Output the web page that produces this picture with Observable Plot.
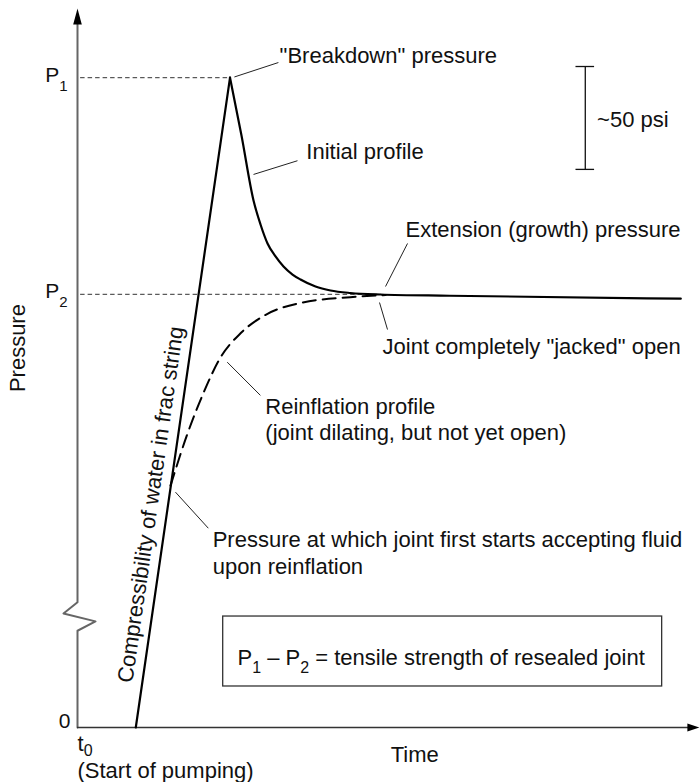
<!DOCTYPE html>
<html><head><meta charset="utf-8">
<script src="https://cdn.jsdelivr.net/npm/d3@7"></script>
<script src="https://cdn.jsdelivr.net/npm/@observablehq/plot@0.6"></script>
<style>html,body{margin:0;padding:0;background:#fff}svg{display:block}</style>
</head><body><div id="chart"></div>
<script>
// ---- values (arbitrary schematic units) ----
const P1 = 90, P2 = 60;
const riseTime = [9.4, 24.6];
const risePressure = [0, 90];
const initialTime = [24.6, 26.45, 28.39, 29.52, 30.65, 31.94, 33.23, 34.68, 35.97, 38.39, 40.81, 44.03, 48.87, 60, 97.3];
const initialPressure = [90, 82.0, 73.0, 69.67, 67.04, 65.24, 63.85, 62.74, 62.05, 61.08, 60.53, 60.18, 59.97, 59.8, 59.4];
const reinflTime = [15.0, 17.74, 20.3, 23.06, 26.3, 30.65, 35.97, 44.0, 49.7];
const reinflPressure = [33.5, 40.7, 46.3, 51.25, 54.6, 57.3, 58.8, 59.6, 59.9];

const tickValues = [P2, P1];
const tickLabels = ["P_2", "P_1"];

const annoText = ['"Breakdown" pressure', "Initial profile", "~50 psi",
  "Extension (growth) pressure", 'Joint completely "jacked" open',
  "Reinflation profile\n(joint dilating, but not yet open)",
  "Pressure at which joint first starts accepting fluid\nupon reinflation"];
const annoX = [32.6, 36.9, 83.8, 52.9, 49.2, 30.3, 21.8];
const annoY = [92.1, 78.8, 83.2, 67.9, 51.7, 39.8, 21.3];

const leaderX1 = [25.3, 28.39, 49.68, 48.71, 24.15, 15.8];
const leaderY1 = [90.1, 76.6, 61.08, 58.86, 50.6, 32.6];
const leaderX2 = [32.4, 35.48, 53.23, 50.0, 29.5, 21.1];
const leaderY2 = [92.1, 78.5, 67.04, 55.12, 46.0, 27.6];

const scaleX = 81.9, scaleTop = 91.55, scaleBottom = 77.3, scaleCap = 1.5;
const boxX = [23.5, 94.3], boxY = [5.68, 15.37];
const boxText = "P_1 – P_2 = tensile strength of resealed joint";
const axisYTime = [0, 0, 2.9, -2.26, 0, 0];
const axisYPressure = [0, 13.4, 14.7, 15.8, 17.35, 98];

// ---- tables ----
const rise = riseTime.map((t, i) => ({t, p: risePressure[i]}));
const initial = initialTime.map((t, i) => ({t, p: initialPressure[i]}));
const reinfl = reinflTime.map((t, i) => ({t, p: reinflPressure[i]}));
const ticks = tickValues.map((v, i) => ({v, label: tickLabels[i]}));
const annos = annoText.map((s, i) => ({s, x: annoX[i], y: annoY[i]}));
const leaders = leaderX1.map((x1, i) => ({x1, y1: leaderY1[i], x2: leaderX2[i], y2: leaderY2[i]}));
const axisY = axisYTime.map((t, i) => ({t, p: axisYPressure[i]}));

const arrowUp = {draw(c) { c.moveTo(0, 0); c.lineTo(4.3, 16); c.lineTo(-4.3, 16); c.closePath(); }};
const arrowRight = {draw(c) { c.moveTo(0, 0); c.lineTo(-12, -4); c.lineTo(-12, 4); c.closePath(); }};

const FONT = "Liberation Sans, Arial, Helvetica, sans-serif";

const chart = Plot.plot({
  width: 700, height: 782,
  marginLeft: 77, marginRight: 3, marginTop: 5, marginBottom: 55,
  x: {domain: [0, 100], axis: null},
  y: {domain: [0, 100], axis: null},
  style: {fontFamily: FONT, fontSize: "22px", color: "#111", background: "white", overflow: "visible"},
  marks: [
    Plot.ruleY([P1], {x1: 0.5, x2: riseTime[1], stroke: "#333", strokeWidth: 1, strokeDasharray: "4.5,3"}),
    Plot.ruleY([P2], {x1: 0.5, x2: 49, stroke: "#333", strokeWidth: 1, strokeDasharray: "4.5,3"}),
    Plot.line(axisY, {x: "t", y: "p", stroke: "#666", strokeWidth: 2}),
    Plot.ruleY([0], {x1: 0, x2: 99, stroke: "#333", strokeWidth: 1.5}),
    Plot.dot([{t: 0, p: 99.6}], {x: "t", y: "p", symbol: arrowUp, r: 5, fill: "black", stroke: "none"}),
    Plot.dot([{t: 100.3, p: 0}], {x: "t", y: "p", symbol: arrowRight, r: 5, fill: "black", stroke: "none"}),
    Plot.line(reinfl, {x: "t", y: "p", curve: "monotone-x", stroke: "black", strokeWidth: 2, strokeDasharray: "13,7"}),
    Plot.line(rise, {x: "t", y: "p", stroke: "black", strokeWidth: 2.2}),
    Plot.line(initial, {x: "t", y: "p", curve: "monotone-x", stroke: "black", strokeWidth: 2.2}),
    Plot.link(leaders, {x1: "x1", y1: "y1", x2: "x2", y2: "y2", stroke: "#222", strokeWidth: 1}),
    Plot.ruleX([scaleX], {y1: scaleBottom, y2: scaleTop, stroke: "#111", strokeWidth: 1.3}),
    Plot.ruleY([scaleTop, scaleBottom], {x1: scaleX - scaleCap, x2: scaleX + scaleCap, stroke: "#111", strokeWidth: 1.3}),
    Plot.rect([{}], {x1: boxX[0], x2: boxX[1], y1: boxY[0], y2: boxY[1], fill: "white", stroke: "#333", strokeWidth: 1.3}),
    Plot.text([boxText], {x: 25.8, y: 8.7, text: d => d, textAnchor: "start", lineAnchor: "bottom", fontSize: 22}),
    Plot.text(annos, {x: "x", y: "y", text: "s", textAnchor: "start", lineAnchor: "bottom", fontSize: 22, lineHeight: 1.21}),
    Plot.text(["Compressibility of water in frac string"], {x: 8.82, y: 6.1, text: d => d, rotate: -81.8, textAnchor: "start", lineAnchor: "bottom", fontSize: 22}),
    Plot.text(ticks, {x: 0, y: "v", text: "label", textAnchor: "end", lineAnchor: "bottom", dx: -10, dy: 4, fontSize: 21}),
    Plot.text(["0"], {x: 0, y: 0, text: d => d, textAnchor: "end", lineAnchor: "bottom", dx: -7, fontSize: 21}),
    Plot.text(["Pressure"], {x: -8.4, y: 52.55, text: d => d, rotate: -90, textAnchor: "middle", lineAnchor: "bottom", fontSize: 22}),
    Plot.text(["Time"], {x: 54.4, y: -4.8, text: d => d, textAnchor: "middle", lineAnchor: "bottom", fontSize: 22}),
    Plot.text(["t_0"], {x: 0, y: -3.3, text: d => d, textAnchor: "start", lineAnchor: "bottom", fontSize: 22}),
    Plot.text(["(Start of pumping)"], {x: 0, y: -6.97, text: d => d, textAnchor: "start", lineAnchor: "bottom", fontSize: 22})
  ]
});

// subscripts: "_x" -> lowered, smaller tspan
function subConf(s) {
  if (s.startsWith("t_")) return [16, 5];
  if (s.length > 4) return [16, 8];
  return [15, 9];
}
chart.querySelectorAll("text").forEach(el => {
  const s = el.textContent;
  if (!s.includes("_") || el.children.length) return;
  const [size, shift] = subConf(s);
  const parts = s.split(/(_.)/).filter(p => p.length);
  el.textContent = "";
  let down = false;
  for (const p of parts) {
    const ts = document.createElementNS("http://www.w3.org/2000/svg", "tspan");
    if (p.startsWith("_")) {
      ts.textContent = p.slice(1);
      ts.setAttribute("font-size", size);
      ts.setAttribute("dy", shift);
      down = true;
    } else {
      ts.textContent = p;
      if (down) { ts.setAttribute("dy", -shift); down = false; }
    }
    el.appendChild(ts);
  }
});
document.getElementById("chart").appendChild(chart);
</script>
</body></html>
